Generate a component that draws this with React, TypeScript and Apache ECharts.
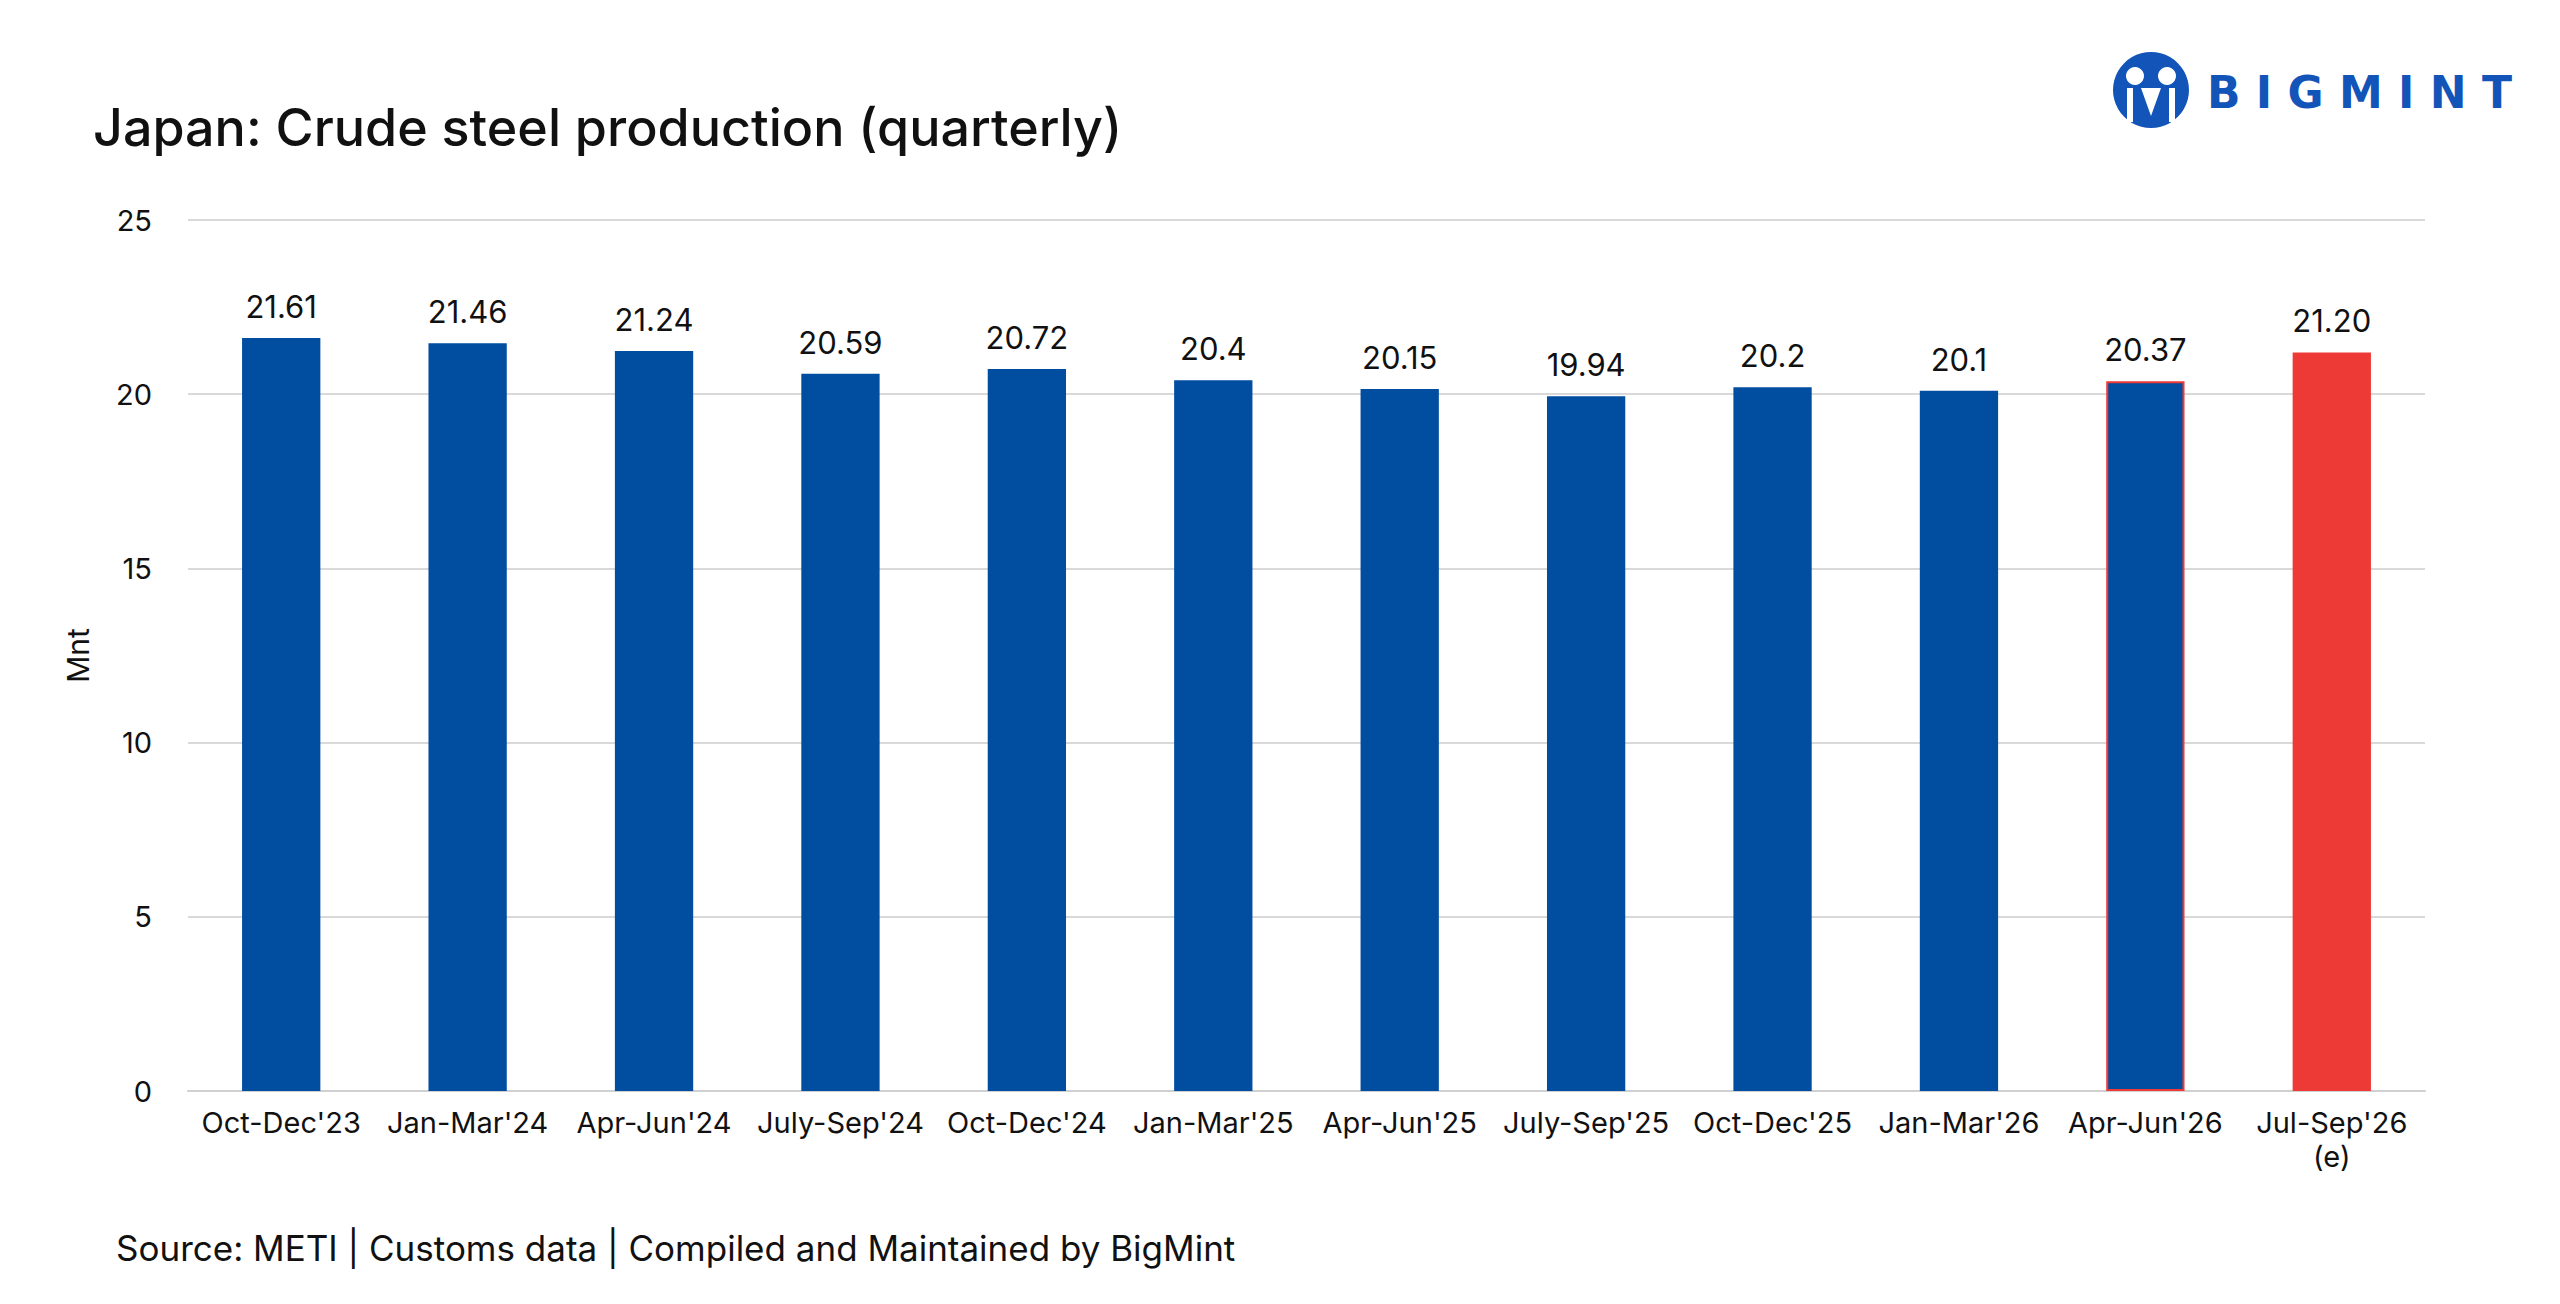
import * as echarts from "echarts";
import { useEffect, useRef } from "react";

const categories = [
  "Oct-Dec'23", "Jan-Mar'24", "Apr-Jun'24", "July-Sep'24", "Oct-Dec'24", "Jan-Mar'25",
  "Apr-Jun'25", "July-Sep'25", "Oct-Dec'25", "Jan-Mar'26", "Apr-Jun'26", "Jul-Sep'26\n(e)",
];
const production = [21.61, 21.46, 21.24, 20.59, 20.72, 20.4, 20.15, 19.94, 20.2, 20.1, 20.37, 21.2];
const labels = ["21.61", "21.46", "21.24", "20.59", "20.72", "20.4", "20.15", "19.94", "20.2", "20.1", "20.37", "21.20"];

const BLUE = "#014DA0";
const RED = "#EE3A36";
const FONT = "Inter, 'Liberation Sans', sans-serif";

const App: React.FC = () => {
  const chartRef = useRef<HTMLDivElement>(null);

  useEffect(() => {
    const chart = echarts.init(chartRef.current!, null, { renderer: "svg" });

    const data = production.map((v, i) => ({
      value: v,
      itemStyle:
        i === production.length - 1
          ? { color: RED }
          : i === production.length - 2
          ? { color: BLUE, borderColor: RED, borderWidth: 2 }
          : { color: BLUE },
      label: { formatter: labels[i] },
    }));

    chart.setOption({
      animation: false,
      textStyle: { fontFamily: FONT },
      title: {
        text: "Japan: Crude steel production (quarterly)",
        left: 80,
        top: 88,
        textStyle: { fontSize: 52, fontWeight: 500, color: "#111", fontFamily: FONT },
      },
      grid: { left: 180, right: 127, top: 212, bottom: 205 },
      xAxis: {
        type: "category",
        data: categories,
        axisTick: { show: false },
        axisLine: { lineStyle: { color: "#d0d0d0", width: 2 } },
        axisLabel: { color: "#111", fontSize: 29, margin: 14, lineHeight: 34, interval: 0 },
      },
      yAxis: {
        type: "value",
        min: 0,
        max: 25,
        interval: 5,
        name: "Mnt",
        nameLocation: "middle",
        nameGap: 95,
        nameTextStyle: { color: "#111", fontSize: 30 },
        axisLabel: { color: "#111", fontSize: 29, margin: 36 },
        splitLine: { lineStyle: { color: "#d9d9d9", width: 2 } },
      },
      series: [
        {
          type: "bar",
          data,
          barWidth: "42%",
          label: { show: true, position: "top", distance: 16, color: "#111", fontSize: 31 },
        },
      ],
      graphic: [
        {
          type: "text",
          left: 108,
          top: 1222,
          style: {
            text: "Source: METI | Customs data | Compiled and Maintained by BigMint",
            fontSize: 35,
            fill: "#111",
            fontFamily: FONT,
          },
        },
        {
          type: "group",
          left: 2105,
          top: 44,
          children: [
            { type: "circle", shape: { cx: 38, cy: 38, r: 38 }, style: { fill: "#1254B8" } },
            { type: "circle", shape: { cx: 22, cy: 24, r: 9 }, style: { fill: "#fff" } },
            { type: "circle", shape: { cx: 54, cy: 24, r: 9 }, style: { fill: "#fff" } },
            { type: "rect", shape: { x: 14, y: 36, width: 6, height: 34 }, style: { fill: "#fff" } },
            { type: "rect", shape: { x: 56, y: 36, width: 6, height: 34 }, style: { fill: "#fff" } },
            { type: "polygon", shape: { points: [[28, 36], [48, 36], [38, 64]] }, style: { fill: "#fff" } },
            {
              type: "text",
              x: 94,
              y: 18,
              style: {
                text: "B I G M I N T",
                fontSize: 44,
                fontWeight: 900,
                fill: "#1254B8",
                fontFamily: "'DejaVu Sans', sans-serif",
              },
            },
          ],
        },
      ],
    });

    return () => {
      chart.dispose();
    };
  }, []);

  return <div ref={chartRef} style={{ width: "100%", height: "1288px" }} />;
};

export default App;
